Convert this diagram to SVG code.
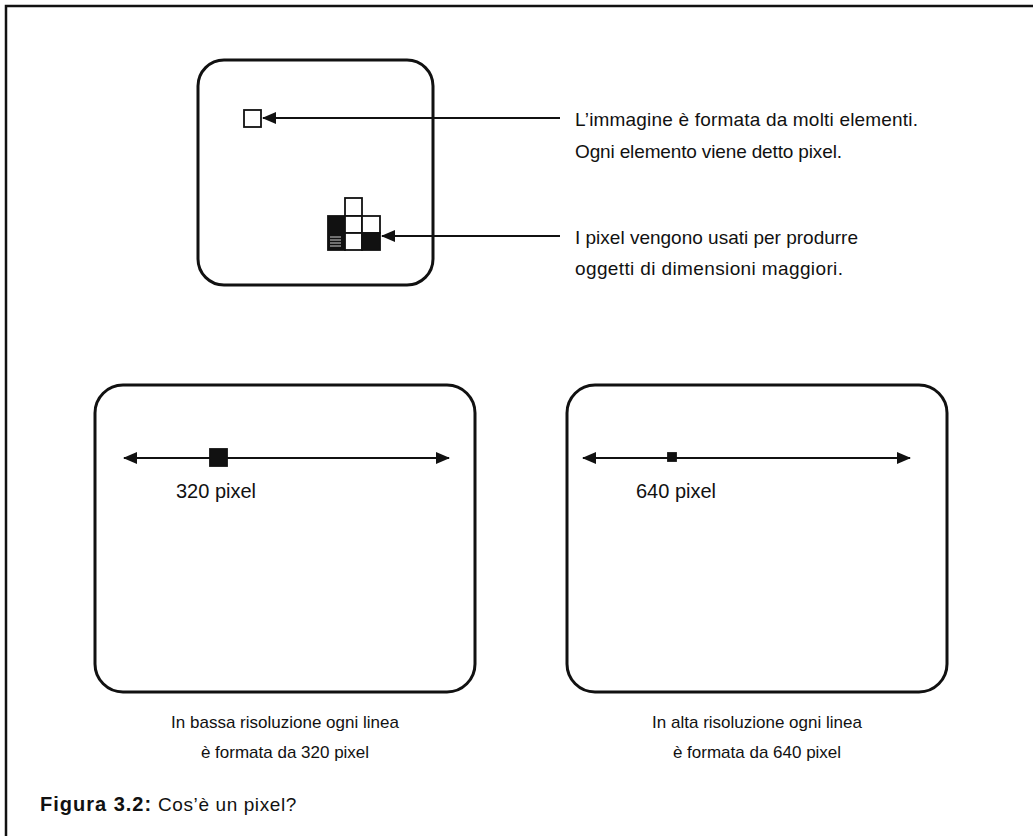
<svg xmlns="http://www.w3.org/2000/svg" width="1033" height="836" viewBox="0 0 1033 836">
  <style>
    .frame { fill: none; stroke: #111; stroke-width: 2.5; }
    .screen { fill: #fff; stroke: #111; stroke-width: 3; }
    .line { stroke: #111; stroke-width: 2; fill: none; }
    .px { fill: #fff; stroke: #111; stroke-width: 1.8; }
    .pxon { fill: #111; stroke: #111; stroke-width: 1.8; }
    text { font-family: "Liberation Sans", "DejaVu Sans", sans-serif; font-size: 17px; fill: #111; }
    .note { font-size: 19px; }
    .count { font-size: 20px; }
    .cap { text-anchor: middle; }
    .fig { font-size: 19px; letter-spacing: 0.6px; }
    .bold { font-weight: bold; font-size: 20px; letter-spacing: 1px; }
  </style>
  <defs>
    <marker id="head" viewBox="0 0 14 12" refX="13" refY="6" markerWidth="14" markerHeight="12" markerUnits="userSpaceOnUse" orient="auto-start-reverse">
      <path d="M0,0 L14,6 L0,12 Z" fill="#111"/>
    </marker>
  </defs>

  <!-- page frame: top and left rules -->
  <path class="frame" d="M6,836 L6,6 L1033,6"/>

  <!-- top screen: pixels as building blocks -->
  <g id="screen-top">
    <rect class="screen" x="198" y="60" width="235" height="225" rx="26"/>
    <rect class="px" x="244" y="110" width="17" height="17"/>
    <g id="pixel-cluster">
      <rect class="px" x="345" y="198" width="17" height="18"/>
      <rect class="pxon" x="328" y="216" width="17" height="34"/>
      <rect class="px" x="345" y="216" width="17" height="17"/>
      <rect class="px" x="362" y="216" width="18" height="17"/>
      <rect class="px" x="345" y="233" width="17" height="17"/>
      <rect class="pxon" x="362" y="233" width="18" height="17"/>
      <path d="M330,237 H341 M330,240 H341 M330,243 H341 M330,246 H341" stroke="#fff" stroke-width="0.8"/>
    </g>
  </g>

  <!-- bottom-left screen: low resolution -->
  <g id="screen-low">
    <rect class="screen" x="95" y="385" width="380" height="307" rx="28"/>
    <rect class="pxon" x="210" y="449" width="17" height="17"/>
    <text class="count" x="176" y="498">320 pixel</text>
  </g>

  <!-- bottom-right screen: high resolution -->
  <g id="screen-high">
    <rect class="screen" x="567" y="385" width="380" height="307" rx="28"/>
    <rect class="pxon" x="668" y="453" width="8" height="8"/>
    <text class="count" x="636" y="498">640 pixel</text>
  </g>

  <!-- connectors -->
  <g id="connectors">
    <line class="line" x1="560" y1="118" x2="263" y2="118" marker-end="url(#head)"/>
    <line class="line" x1="560" y1="236" x2="382" y2="236" marker-end="url(#head)"/>
    <line class="line" x1="124" y1="458" x2="449" y2="458" marker-start="url(#head)" marker-end="url(#head)"/>
    <line class="line" x1="583" y1="458" x2="910" y2="458" marker-start="url(#head)" marker-end="url(#head)"/>
  </g>

  <!-- callout texts -->
  <g id="note-pixel">
    <text class="note" x="575" y="126" textLength="343">L’immagine è formata da molti elementi.</text>
    <text class="note" x="575" y="158" textLength="267">Ogni elemento viene detto pixel.</text>
  </g>
  <g id="note-objects">
    <text class="note" x="575" y="244" textLength="283">I pixel vengono usati per produrre</text>
    <text class="note" x="575" y="275" textLength="268">oggetti di dimensioni maggiori.</text>
  </g>

  <!-- screen captions -->
  <g id="caption-low">
    <text class="cap" x="285" y="728">In bassa risoluzione ogni linea</text>
    <text class="cap" x="285" y="758">è formata da 320 pixel</text>
  </g>
  <g id="caption-high">
    <text class="cap" x="757" y="728">In alta risoluzione ogni linea</text>
    <text class="cap" x="757" y="758">è formata da 640 pixel</text>
  </g>

  <!-- figure caption -->
  <text class="fig" x="40" y="811"><tspan class="bold">Figura 3.2:</tspan> Cos’è un pixel?</text>
</svg>
